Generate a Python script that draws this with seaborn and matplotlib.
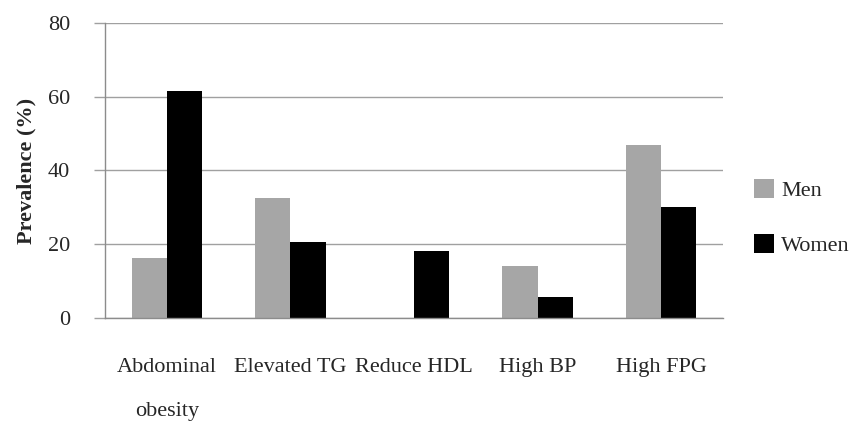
import seaborn as sns
import matplotlib.pyplot as plt
import pandas as pd

categories = ["Abdominal\nobesity", "Elevated TG", "Reduce HDL", "High BP", "High FPG"]
men = [16.2, 32.5, 0.0, 14.2, 47.0]
women = [61.5, 20.5, 18.3, 5.6, 30.1]
groups = ["Men", "Women"]
yticks = [0, 20, 40, 60, 80]

df = pd.DataFrame({
    "category": categories * 2,
    "value": men + women,
    "sex": ["Men"] * len(categories) + ["Women"] * len(categories),
})

sns.set_style("white")
plt.rcParams['font.family'] = ['Liberation Serif', 'DejaVu Serif']

fig = plt.figure(figsize=(8.52, 4.21), dpi=100)
ax = fig.add_axes([0.1232, 0.2447, 0.7254, 0.7007])

sns.barplot(data=df, x="category", y="value", hue="sex", hue_order=groups,
            palette={"Men": "#a6a6a6", "Women": "#000000"},
            width=0.57, gap=0, saturation=1, linewidth=0, ax=ax, legend=True)

ax.set_ylim(0, 80)
ax.set_yticks(yticks)
ax.set_xlim(-0.5, len(categories) - 0.5)
ax.yaxis.grid(True, color="#a0a0a0", linewidth=1)
ax.set_axisbelow(True)
for s in ["top", "right"]:
    ax.spines[s].set_visible(False)
for s in ["left", "bottom"]:
    ax.spines[s].set_color("#8c8c8c")
    ax.spines[s].set_linewidth(1)

ax.tick_params(axis="y", length=8, color="#a0a0a0", width=1, labelsize=16, pad=17, left=True)
ax.tick_params(axis="x", length=0, labelsize=16, pad=29)
for lbl in ax.get_xticklabels():
    lbl.set_linespacing(2.8)
    lbl.set_verticalalignment("top")

ax.set_xlabel("")
ax.set_ylabel("Prevalence (%)", fontsize=16, fontweight="bold", labelpad=8)

handles, labels = ax.get_legend_handles_labels()
ax.legend(handles, labels, loc="center left", bbox_to_anchor=(1.035, 0.34),
          frameon=False, fontsize=16, handlelength=0.9, handleheight=0.9,
          labelspacing=1.5, handletextpad=0.35, borderaxespad=0)

fig.savefig("out.png", dpi=100)
